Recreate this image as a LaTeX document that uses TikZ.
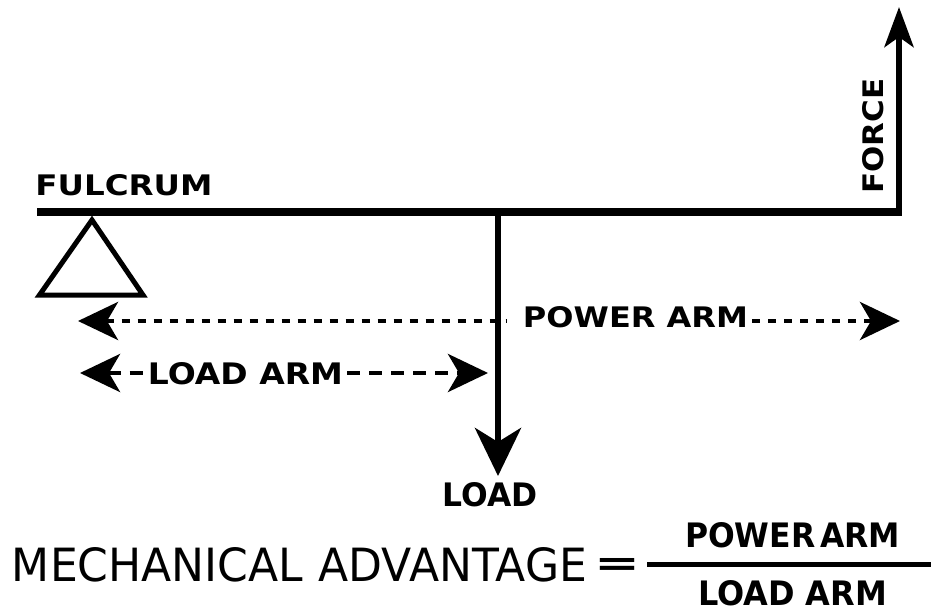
\documentclass[tikz,border=0pt]{standalone}
\usepackage{fontspec}
\setmainfont{DejaVu Sans}
\usetikzlibrary{arrows.meta}
\newcommand{\fitbox}[3]{\resizebox{#1pt}{#2pt}{#3}}
\begin{document}
\begin{tikzpicture}[x=1pt,y=-1pt,
  lbl/.style={inner sep=0pt, font=\bfseries},
  plain/.style={inner sep=0pt, font=\mdseries},
  beam/.style={line width=8pt, line cap=butt},
  rod/.style={line width=6.5pt},
  support/.style={line width=5pt, line join=miter},
  armline/.style={line width=4.5pt, dash pattern=on 8pt off 8pt},
  loadline/.style={line width=4.5pt, dash pattern=on 13pt off 9pt},
  hL/.style={{Stealth[length=40pt,width=38pt,inset=11pt]}-},
  hR/.style={-{Stealth[length=40pt,width=38pt,inset=11pt]}},
  bigR/.style={-{Stealth[length=48pt,width=46pt,inset=14pt]}},
  upR/.style={-{Stealth[length=40pt,width=29pt,inset=10pt]}},
  bar/.style={line width=5pt}]
\useasboundingbox (0,0) rectangle (931,612);

% lever
\coordinate (beamL) at (37,212);
\coordinate (beamR) at (902,212);
\draw[beam] (beamL) -- (beamR);

% force
\coordinate (forceBase) at (899,216);
\coordinate (forceTip) at (899,7);
\draw[rod, upR] (forceBase) -- (forceTip);
\node[lbl, rotate=90] (force) at (873,136) {\fitbox{115}{21}{FORCE}};

% load
\coordinate (loadTop) at (498,212);
\coordinate (loadTip) at (498,476);
\draw[rod, bigR] (loadTop) -- (loadTip);
\node[lbl] (load) at (490.5,495) {\fitbox{95}{24}{LOAD}};

% fulcrum
\node[lbl] (fulcrum) at (124,185.5) {\fitbox{177}{21}{FULCRUM}};
\coordinate (apex) at (92,220);
\coordinate (baseR) at (143,295);
\coordinate (baseL) at (39.5,295);
\draw[support] (apex) -- (baseR) -- (baseL) -- cycle;

% power arm
\coordinate (paL) at (78,321);
\coordinate (paR) at (900,321);
\node[lbl] (powerarm) at (635.5,317) {\fitbox{225}{21}{POWER ARM}};
\coordinate (paMidL) at (507,321);
\coordinate (paMidR) at (752,321);
\draw[armline, hL] (paL) -- (paMidL);
\draw[armline, hR] (paMidR) -- (paR);

% load arm
\coordinate (laL) at (80,373);
\coordinate (laR) at (488,373);
\node[lbl] (loadarm) at (245.5,373.5) {\fitbox{195}{22}{LOAD ARM}};
\draw[loadline, hL] (laL) -- (loadarm.west |- laL);
\draw[loadline, hR] ([xshift=4pt]loadarm.east |- laR) -- (laR);

% formula
\node[plain] (ma) at (299.5,565) {\fitbox{575}{34}{MECHANICAL\hspace{0.35em}ADVANTAGE}};
\node[lbl] (eq) at (617,567) {\fitbox{46}{17}{=}};
\node[lbl] (num) at (792.5,535.5) {\fitbox{215}{25}{POWER\hspace{0.15em}ARM}};
\node[lbl] (den) at (792.5,593) {\fitbox{189}{25}{LOAD ARM}};
\coordinate (barL) at (647,564.5);
\coordinate (barR) at (931,564.5);
\draw[bar] (barL) -- (barR);
\end{tikzpicture}
\end{document}
